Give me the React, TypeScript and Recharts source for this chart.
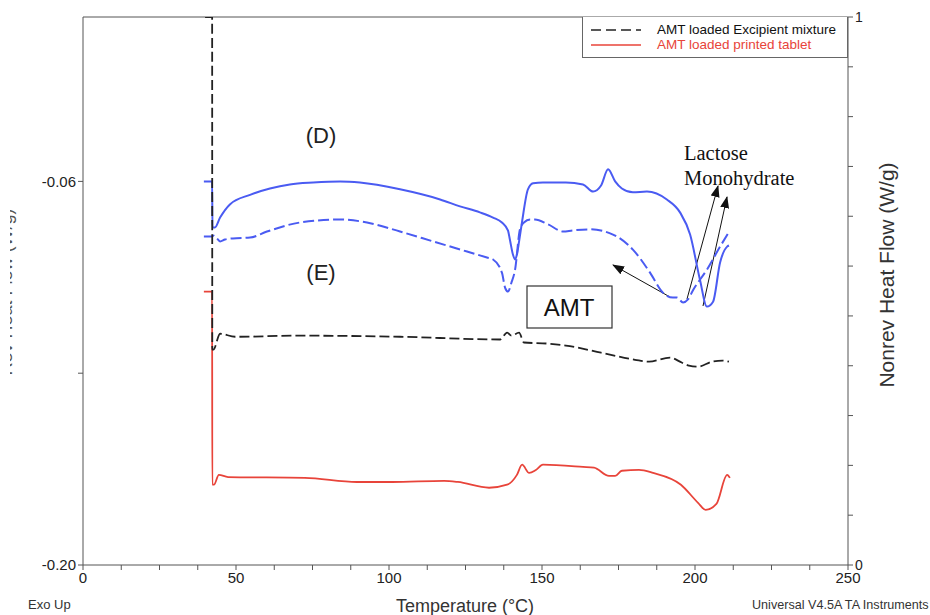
import React from 'react';
import { LineChart, Line, XAxis, YAxis, Legend, ReferenceLine, Customized } from 'recharts';

// Temperature (°C) vs heat flow (W/g)
const curveD = [
  { t: 39.5, v: -0.06 }, { t: 42.2, v: -0.06 }, { t: 42.3, v: -0.0768 }, { t: 43.1, v: -0.0768 },
  { t: 44.8, v: -0.0732 }, { t: 48.0, v: -0.0684 }, { t: 54.6, v: -0.0649 }, { t: 61.1, v: -0.0626 },
  { t: 67.6, v: -0.0611 }, { t: 75.2, v: -0.0604 }, { t: 84.0, v: -0.06 }, { t: 90.5, v: -0.0604 },
  { t: 103.6, v: -0.0629 }, { t: 116.7, v: -0.0666 }, { t: 123.2, v: -0.0691 }, { t: 129.7, v: -0.0713 },
  { t: 134.0, v: -0.0732 }, { t: 136.9, v: -0.075 }, { t: 138.9, v: -0.078 }, { t: 139.5, v: -0.0812 },
  { t: 140.5, v: -0.0867 }, { t: 141.2, v: -0.0885 }, { t: 141.8, v: -0.0867 }, { t: 142.5, v: -0.082 },
  { t: 143.5, v: -0.0746 }, { t: 145.4, v: -0.0629 }, { t: 147.1, v: -0.0607 }, { t: 150.3, v: -0.0604 },
  { t: 157.8, v: -0.0604 }, { t: 163.4, v: -0.0611 }, { t: 166.7, v: -0.0637 }, { t: 169.3, v: -0.0615 },
  { t: 171.6, v: -0.0556 }, { t: 173.9, v: -0.06 }, { t: 176.1, v: -0.0626 }, { t: 179.7, v: -0.064 },
  { t: 184.3, v: -0.0637 }, { t: 190.8, v: -0.0666 }, { t: 195.1, v: -0.0713 }, { t: 198.4, v: -0.0794 },
  { t: 201.6, v: -0.0958 }, { t: 203.9, v: -0.1057 }, { t: 205.9, v: -0.1039 }, { t: 208.2, v: -0.0896 },
  { t: 210.5, v: -0.0838 }, { t: 211.1, v: -0.0834 },
];

const curveE = [
  { t: 39.5, v: -0.0801 }, { t: 42.2, v: -0.0801 }, { t: 42.5, v: -0.0797 }, { t: 44.1, v: -0.0812 },
  { t: 44.8, v: -0.0819 }, { t: 46.4, v: -0.0812 }, { t: 49.0, v: -0.0808 }, { t: 54.6, v: -0.0805 },
  { t: 60.1, v: -0.0783 }, { t: 70.9, v: -0.075 }, { t: 84.0, v: -0.0739 }, { t: 92.8, v: -0.075 },
  { t: 103.6, v: -0.0783 }, { t: 114.4, v: -0.0819 }, { t: 125.5, v: -0.0856 }, { t: 132.0, v: -0.0878 },
  { t: 134.0, v: -0.0885 }, { t: 136.9, v: -0.0933 }, { t: 138.0, v: -0.099 }, { t: 138.9, v: -0.1002 },
  { t: 140.0, v: -0.097 }, { t: 141.2, v: -0.0922 }, { t: 142.8, v: -0.0775 }, { t: 144.1, v: -0.075 },
  { t: 146.1, v: -0.0739 }, { t: 147.7, v: -0.0739 }, { t: 152.0, v: -0.0757 }, { t: 156.9, v: -0.0783 },
  { t: 160.0, v: -0.0779 }, { t: 165.7, v: -0.0775 }, { t: 173.2, v: -0.0794 }, { t: 179.7, v: -0.0849 },
  { t: 185.3, v: -0.0933 }, { t: 189.5, v: -0.1006 }, { t: 192.8, v: -0.1024 }, { t: 194.1, v: -0.1024 },
  { t: 196.1, v: -0.1042 }, { t: 197.7, v: -0.1031 }, { t: 199.3, v: -0.0998 }, { t: 203.9, v: -0.0922 },
  { t: 208.2, v: -0.0838 }, { t: 210.8, v: -0.079 },
];

const excipientMixture = [
  { t: 39.9, v: 0.0 }, { t: 42.2, v: 0.0 }, { t: 42.25, v: -0.1214 }, { t: 42.6, v: -0.1214 },
  { t: 44.8, v: -0.1156 }, { t: 49.7, v: -0.1167 }, { t: 70.9, v: -0.1163 }, { t: 103.6, v: -0.1167 },
  { t: 136.3, v: -0.1177 }, { t: 138.6, v: -0.1152 }, { t: 140.0, v: -0.1163 }, { t: 142.5, v: -0.1152 },
  { t: 144.1, v: -0.1188 }, { t: 152.0, v: -0.1192 }, { t: 157.8, v: -0.1199 }, { t: 169.3, v: -0.1225 },
  { t: 180.4, v: -0.1251 }, { t: 185.0, v: -0.1258 }, { t: 191.8, v: -0.1243 }, { t: 195.8, v: -0.1262 },
  { t: 198.0, v: -0.1272 }, { t: 201.0, v: -0.1276 }, { t: 205.6, v: -0.1258 }, { t: 209.0, v: -0.1254 },
  { t: 211.1, v: -0.1258 },
];

const printedTablet = [
  { t: 39.5, v: -0.1002 }, { t: 42.2, v: -0.1002 }, { t: 42.25, v: -0.1707 }, { t: 42.8, v: -0.1707 },
  { t: 44.4, v: -0.1671 }, { t: 47.4, v: -0.1679 }, { t: 72.5, v: -0.1682 }, { t: 89.5, v: -0.1697 },
  { t: 101.0, v: -0.1697 }, { t: 118.0, v: -0.1693 }, { t: 122.5, v: -0.1697 }, { t: 132.7, v: -0.1718 },
  { t: 138.6, v: -0.1707 }, { t: 141.8, v: -0.1671 }, { t: 143.5, v: -0.1634 }, { t: 145.8, v: -0.1664 },
  { t: 148.0, v: -0.1653 }, { t: 150.3, v: -0.1634 }, { t: 163.4, v: -0.1642 }, { t: 167.0, v: -0.1645 },
  { t: 171.9, v: -0.1675 }, { t: 173.9, v: -0.1675 }, { t: 176.1, v: -0.1656 }, { t: 181.7, v: -0.1653 },
  { t: 186.3, v: -0.1664 }, { t: 195.4, v: -0.1707 }, { t: 201.0, v: -0.1773 }, { t: 203.5, v: -0.1799 },
  { t: 207.0, v: -0.1777 }, { t: 210.5, v: -0.1671 }, { t: 211.4, v: -0.1682 },
];

const temperatureTicks = [0, 12.5, 25, 37.5, 50, 62.5, 75, 87.5, 100, 112.5, 125, 137.5, 150, 162.5, 175, 187.5, 200, 212.5, 225, 237.5, 250];
const temperatureLabels = [0, 50, 100, 150, 200, 250];
const heatFlowTicks = [-0.2, -0.13, -0.06];
const heatFlowLabels = [-0.2, -0.06];
const nonrevTicks = [0, 0.0909, 0.1818, 0.2727, 0.3636, 0.4545, 0.5455, 0.6364, 0.7273, 0.8182, 0.9091, 1];
const nonrevLabels = [0, 1];

const legendItems = [
  { label: 'AMT loaded Excipient mixture', color: '#222222', dash: '10 5', text: '#111111' },
  { label: 'AMT loaded printed tablet', color: '#e8443a', dash: undefined, text: '#e8443a' },
];

const SANS = '"Liberation Sans", Arial, Helvetica, sans-serif';
const SERIF = '"Liberation Serif", "Times New Roman", serif';
const AXIS = '#555555';
const BLUE = '#4a5bf2';

const LegendBox = () => (
  <div
    style={{
      width: 266,
      height: 41,
      border: '1px solid #666',
      borderTop: 'none',
      background: '#fff',
      boxSizing: 'border-box',
      paddingTop: 5,
      fontFamily: SANS,
      fontSize: 13.5,
    }}
  >
    {legendItems.map((it) => (
      <div key={it.label} style={{ display: 'flex', alignItems: 'center', height: 15 }}>
        <svg width={74} height={10} style={{ display: 'block' }}>
          <line x1={8} y1={5} x2={58} y2={5} stroke={it.color} strokeWidth={1.5} strokeDasharray={it.dash} />
        </svg>
        <span style={{ color: it.text, lineHeight: '15px', whiteSpace: 'nowrap' }}>{it.label}</span>
      </div>
    ))}
  </div>
);

const Annotations = () => (
  <g>
    <defs>
      <marker id="arrowHead" markerWidth="12" markerHeight="9" refX="11" refY="4.5" orient="auto" markerUnits="userSpaceOnUse">
        <path d="M0,0 L12,4.5 L0,9 Z" fill="#111" />
      </marker>
      <clipPath id="leftLabelClip">
        <rect x={10} y={0} width={30} height={615} />
      </clipPath>
    </defs>
    <g clipPath="url(#leftLabelClip)">
      <text
        transform="translate(12,292) rotate(-90)"
        textAnchor="middle"
        fontFamily={SANS}
        fontSize={18}
        fill="#555"
      >
        Rev Heat Flow (W/g)
      </text>
    </g>
    <text x={321} y={143} textAnchor="middle" fontFamily={SANS} fontSize={22} fill="#222">(D)</text>
    <text x={321} y={280} textAnchor="middle" fontFamily={SANS} fontSize={22} fill="#222">(E)</text>
    <rect x={527} y={286} width={85} height={42} fill="#fff" stroke="#333" strokeWidth={1.2} />
    <text x={569} y={316} textAnchor="middle" fontFamily={SANS} fontSize={24} fill="#111">AMT</text>
    <text x={684} y={160} fontFamily={SERIF} fontSize={20.5} fill="#111">Lactose</text>
    <text x={684} y={185} fontFamily={SERIF} fontSize={20.5} fill="#111">Monohydrate</text>
    <line x1={670} y1={297} x2={613} y2={265} stroke="#111" strokeWidth={1} markerEnd="url(#arrowHead)" />
    <line x1={687} y1={299} x2={718} y2={186} stroke="#111" strokeWidth={1} markerEnd="url(#arrowHead)" />
    <line x1={703} y1={306} x2={727} y2={197} stroke="#111" strokeWidth={1} markerEnd="url(#arrowHead)" />
    <text x={28} y={609} fontFamily={SANS} fontSize={13} fill="#333">Exo Up</text>
    <text x={465} y={612} textAnchor="middle" fontFamily={SANS} fontSize={18} fill="#333">Temperature (°C)</text>
    <text x={752} y={609} fontFamily={SANS} fontSize={12.6} fill="#333">Universal V4.5A TA Instruments</text>
    <text
      transform="translate(894,275) rotate(-90)"
      textAnchor="middle"
      fontFamily={SANS}
      fontSize={21}
      fill="#333"
    >
      Nonrev Heat Flow (W/g)
    </text>
  </g>
);

export default function App() {
  return (
    <div style={{ position: 'absolute', left: 0, top: 0, width: 930, height: 615, background: '#fff' }}>
      <LineChart width={930} height={615} margin={{ top: 17, right: 0, bottom: 0, left: 0 }}>
        <XAxis
          dataKey="t"
          type="number"
          domain={[0, 250]}
          ticks={temperatureTicks}
          tickFormatter={(v: number) => (temperatureLabels.includes(v) ? String(v) : '')}
          allowDataOverflow
          height={50}
          stroke={AXIS}
          tickSize={5}
          tick={{ fill: '#222', fontSize: 15, fontFamily: SANS }}
        />
        <YAxis
          yAxisId="left"
          orientation="left"
          type="number"
          domain={[-0.2, 0]}
          ticks={heatFlowTicks}
          tickFormatter={(v: number) => (heatFlowLabels.includes(v) ? v.toFixed(2) : '')}
          allowDataOverflow
          width={83}
          stroke={AXIS}
          tickSize={5}
          tick={{ fill: '#222', fontSize: 15, fontFamily: SANS }}
        />
        <YAxis
          yAxisId="right"
          orientation="right"
          type="number"
          domain={[0, 1]}
          ticks={nonrevTicks}
          tickFormatter={(v: number) => (nonrevLabels.includes(v) ? String(v) : '')}
          allowDataOverflow
          width={82}
          stroke={AXIS}
          tickSize={5}
          tick={{ fill: '#222', fontSize: 14, fontFamily: SANS }}
        />
        <ReferenceLine yAxisId="left" y={0} stroke={AXIS} strokeWidth={1} />
        <Line yAxisId="left" data={printedTablet} dataKey="v" type="monotone" stroke="#e8443a" strokeWidth={1.8} dot={false} activeDot={false} isAnimationActive={false} name="AMT loaded printed tablet" />
        <Line yAxisId="left" data={curveD} dataKey="v" type="monotone" stroke={BLUE} strokeWidth={2} dot={false} activeDot={false} isAnimationActive={false} name="D" />
        <Line yAxisId="left" data={curveE} dataKey="v" type="monotone" stroke={BLUE} strokeWidth={2} strokeDasharray="11 4" dot={false} activeDot={false} isAnimationActive={false} name="E" />
        <Line yAxisId="left" data={excipientMixture} dataKey="v" type="monotone" stroke="#222" strokeWidth={1.8} strokeDasharray="10 4" dot={false} activeDot={false} isAnimationActive={false} name="AMT loaded Excipient mixture" />
        <Legend
          layout="horizontal"
          verticalAlign="middle"
          align="center"
          content={() => <LegendBox />}
          wrapperStyle={{ position: 'absolute', left: 582, top: 17, width: 266, height: 41 }}
        />
        <Customized component={<Annotations />} />
      </LineChart>
    </div>
  );
}
